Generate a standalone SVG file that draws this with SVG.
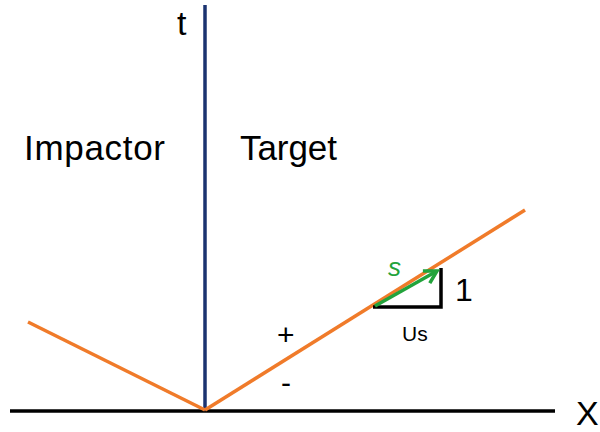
<svg xmlns="http://www.w3.org/2000/svg" width="600" height="432" viewBox="0 0 600 432">
<defs>
<style>
.lbl{font-family:"Liberation Sans",Arial,sans-serif;fill:#000}
.ln{fill:none;stroke-width:3.5}
</style>
<marker id="ah" viewBox="0 0 10 10" refX="8" refY="5" markerWidth="5" markerHeight="5" orient="auto" markerUnits="strokeWidth">
<path d="M1,1 L8,5 L1,9" fill="none" stroke="#22A33B" stroke-width="2"/>
</marker>
</defs>
<rect width="600" height="432" fill="#fff"/>
<g id="connectors">
<line class="ln" x1="10" y1="411" x2="555" y2="411" stroke="#000"/>
<line class="ln" x1="205" y1="5" x2="205" y2="411" stroke="#1B3370"/>
<line class="ln" x1="205" y1="410" x2="525" y2="210" stroke="#F07B2A"/>
<line class="ln" x1="205" y1="410" x2="28" y2="322" stroke="#F07B2A"/>
<polyline class="ln" points="373,307 441,307 441,268" stroke="#000"/>
<line class="ln" x1="375" y1="306" x2="437" y2="271" stroke="#22A33B" marker-end="url(#ah)"/>
</g>
<g id="labels">
<text class="lbl" x="177" y="35" font-size="34">t</text>
<text class="lbl" x="24" y="160" font-size="35" textLength="141">Impactor</text>
<text class="lbl" x="240" y="160" font-size="35" textLength="97">Target</text>
<text class="lbl" x="576" y="425" font-size="34">X</text>
<text class="lbl" x="277" y="345" font-size="30">+</text>
<text class="lbl" x="281" y="393" font-size="30">-</text>
<text class="lbl" x="402" y="341" font-size="21">Us</text>
<text class="lbl" x="455" y="301" font-size="32">1</text>
<text x="388" y="276" font-size="26" font-style="italic" font-family="Liberation Sans,Arial,sans-serif" fill="#22A33B">s</text>
</g>
</svg>
